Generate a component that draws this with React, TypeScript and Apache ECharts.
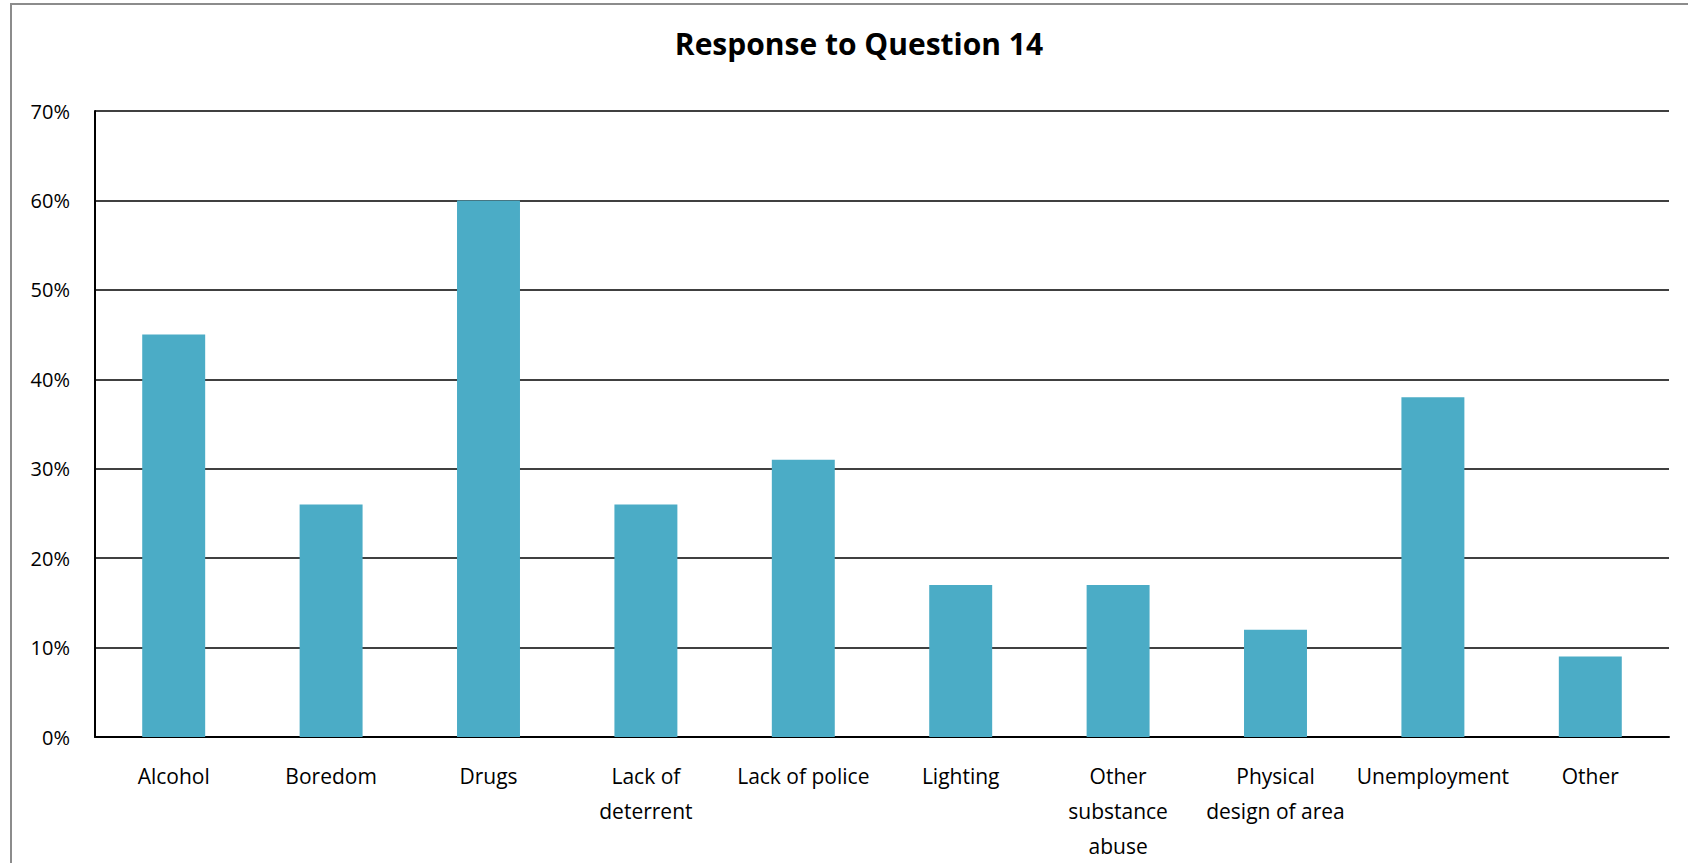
import React, { useEffect, useRef } from "react";
import * as echarts from "echarts";

const titleText = "Response to Question 14";
const categories = [
  "Alcohol",
  "Boredom",
  "Drugs",
  "Lack of\ndeterrent",
  "Lack of police",
  "Lighting",
  "Other\nsubstance\nabuse",
  "Physical\ndesign of area",
  "Unemployment",
  "Other",
];
const values = [45, 26, 60, 26, 31, 17, 17, 12, 38, 9];
const yMin = 0;
const yMax = 70;
const yInterval = 10;

const FONT = "'Open Sans', 'Noto Sans', sans-serif";

export default function App() {
  const ref = useRef<HTMLDivElement>(null);
  useEffect(() => {
    if (!ref.current) return;
    const chart = echarts.init(ref.current, undefined, { renderer: "svg" });
    chart.setOption({
      animation: false,
      backgroundColor: "#ffffff",
      title: {
        text: titleText,
        left: 854,
        top: 23,
        textAlign: "center",
        textStyle: { fontFamily: FONT, fontWeight: "bold", fontSize: 30, color: "#000" },
      },
      graphic: [
        {
          type: "rect",
          shape: { x: 11, y: 4, width: 1700, height: 900 },
          style: { fill: "none", stroke: "#8c8c8c", lineWidth: 2 },
          silent: true,
        },
      ],
      grid: { left: 95, right: 19, top: 111, bottom: 126 - 10, containLabel: false },
      xAxis: {
        type: "category",
        data: categories,
        axisLine: { show: true, lineStyle: { color: "#000", width: 2 } },
        axisTick: { show: false },
        axisLabel: {
          interval: 0,
          margin: 21,
          fontFamily: FONT,
          fontSize: 21,
          color: "#000",
          lineHeight: 35,
          verticalAlign: "top",
        },
      },
      yAxis: {
        type: "value",
        min: yMin,
        max: yMax,
        interval: yInterval,
        axisLine: { show: true, lineStyle: { color: "#000", width: 2 } },
        axisTick: { show: false },
        splitLine: { show: true, lineStyle: { color: "#000", width: 1.5 } },
        axisLabel: {
          formatter: (v: number) => v + "%",
          margin: 25,
          fontFamily: FONT,
          fontSize: 20,
          color: "#000",
        },
      },
      series: [
        {
          type: "bar",
          data: values,
          barWidth: "40%",
          itemStyle: { color: "#4BACC6" },
        },
      ],
    });
    return () => chart.dispose();
  }, []);
  return (
    <div
      ref={ref}
      style={{ position: "fixed", left: 0, top: 0, width: 1688, height: 863 }}
    />
  );
}
